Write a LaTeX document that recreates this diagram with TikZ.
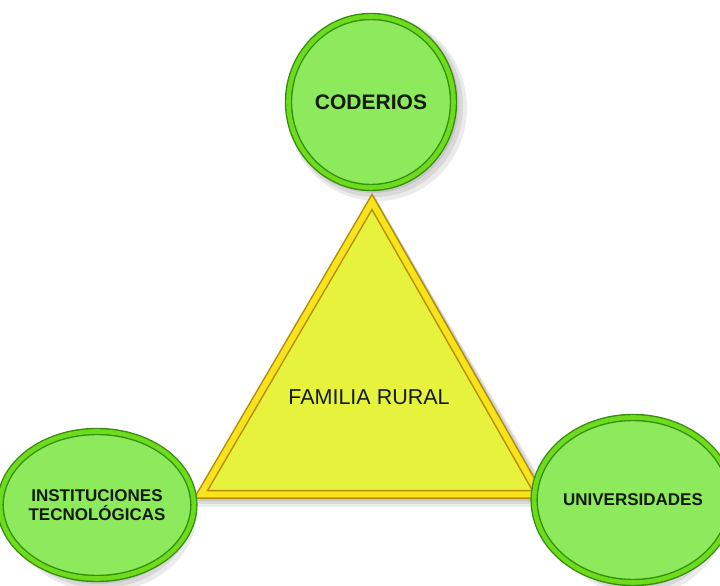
\documentclass[tikz,border=0pt]{standalone}
\usepackage{fontspec}
\setmainfont{Liberation Sans}
\usetikzlibrary{shapes.geometric}
\definecolor{gfill}{HTML}{8CEA5C}
\definecolor{grim}{HTML}{6EDC1C}
\definecolor{gline}{HTML}{348F0E}
\definecolor{yfill}{HTML}{E6F23C}
\definecolor{yrim}{HTML}{F8E31C}
\definecolor{yline}{HTML}{B48C00}
\definecolor{txt}{HTML}{141A0C}
\tikzset{
  ball/.style={ellipse, fill=gfill, draw=gline, line width=1.4pt,
    double=grim, double distance=4.6pt, inner sep=0pt, align=center,
    text=txt, font=\bfseries\fontsize{17}{19.5}\selectfont},
  shad/.style={fill=black, opacity=0.08, draw=none}
}
\begin{document}
\begin{tikzpicture}[x=1pt,y=1pt]
\useasboundingbox (0,0) rectangle (720,586);
\fill[white] (0,0) rectangle (720,586);
% shadows
\foreach \dx/\dy/\ex in {2/-2/0,4/-4/2,6/-6/4}{
  \fill[shad] (371+\dx,484+\dy) ellipse [x radius=86+\ex, y radius=89+\ex];
  \fill[shad] (97+\dx,81+\dy) ellipse [x radius=90+\ex, y radius=77+\ex];
  \fill[shad] (633+\dx,86+\dy) ellipse [x radius=85+\ex, y radius=86+\ex];
  \fill[shad] (372+\dx,393-\ex+\dy) -- (193-\ex+\dx,87-\ex*0.5+\dy) -- (547+\ex+\dx,87-\ex*0.5+\dy) -- cycle;
}
% triangle
\draw[fill=yfill, draw=yline, line width=1.5pt, double=yrim, double distance=6pt, line join=miter]
  (372,384) -- (200.8,91.5) -- (539.2,91.5) -- cycle;
\node[text=txt, font=\fontsize{21.5}{24}\selectfont] (fam) at (369,189) {FAMILIA RURAL};
% circles
\node[ball, minimum width=165pt, minimum height=171pt, font=\bfseries\fontsize{21}{24}\selectfont] (cod) at (371,484) {CODERIOS};
\node[ball, minimum width=173pt, minimum height=147pt] (inst) at (97,81) {INSTITUCIONES\\TECNOLÓGICAS};
\node[ball, minimum width=163pt, minimum height=165pt] (univ) at (633,86) {UNIVERSIDADES};
\end{tikzpicture}
\end{document}
